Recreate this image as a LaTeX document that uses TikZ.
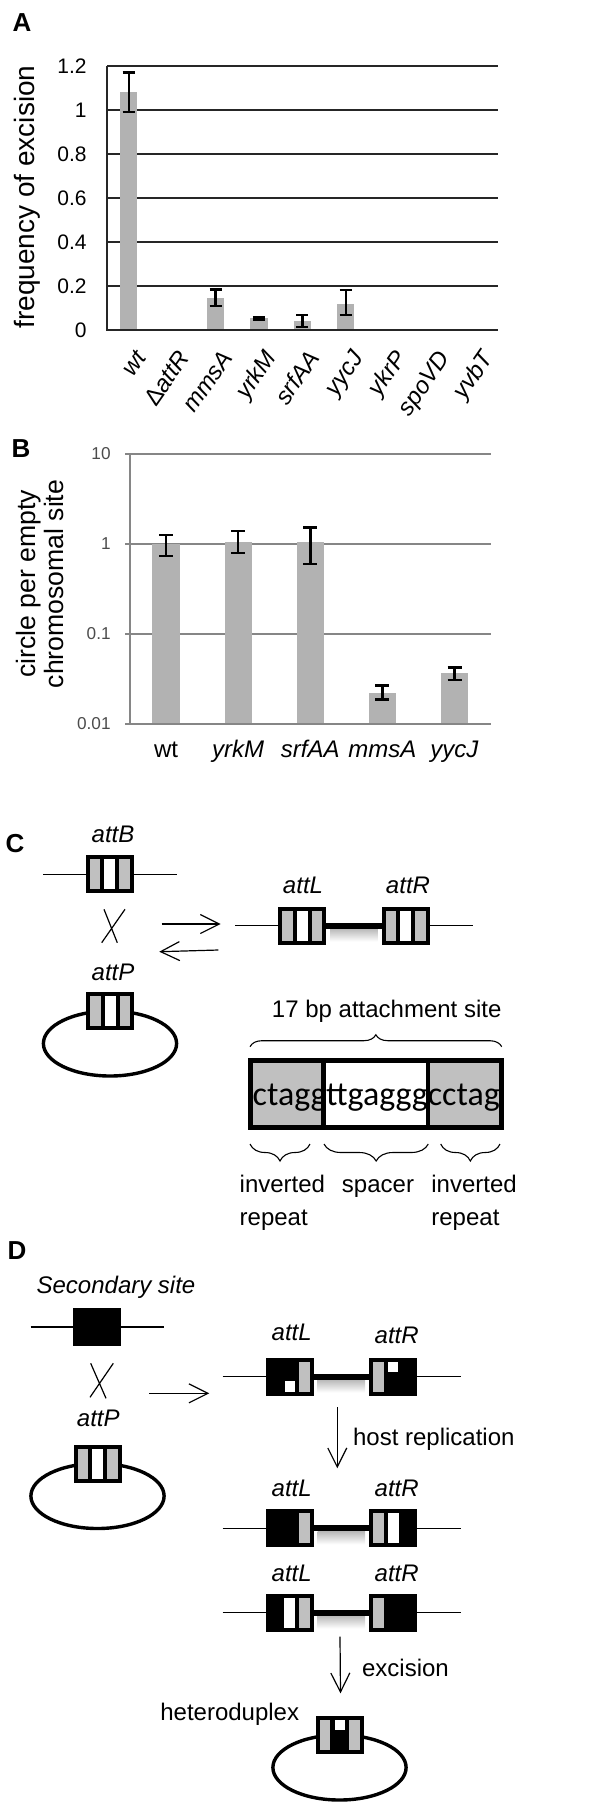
\documentclass[tikz,border=0pt]{standalone}
\usepackage{fontspec}
\setmainfont{Liberation Sans}
\newfontfamily\seqfont{Carlito}
\usetikzlibrary{arrows.meta,shapes.geometric,decorations.pathreplacing}

\definecolor{barfill}{RGB}{178,178,178}
\definecolor{stripe}{RGB}{192,192,192}
\definecolor{gridgray}{RGB}{134,134,134}

% fillings of a site box, offsets in px from its centre
\newcommand\stripeL[1]{\fill[stripe] ([shift={(-20,-15)}]#1.center) rectangle ([shift={(-9.5,15)}]#1.center);}
\newcommand\stripeR[1]{\fill[stripe] ([shift={(9.5,-15)}]#1.center) rectangle ([shift={(20,15)}]#1.center);}
\newcommand\stripeM[1]{\fill[white] ([shift={(-5.5,-15)}]#1.center) rectangle ([shift={(5.5,15)}]#1.center);}
\newcommand\dotTop[1]{\fill[white] ([shift={(-5,-15)}]#1.center) rectangle ([shift={(5,-5)}]#1.center);}
\newcommand\dotLow[1]{\fill[white] ([shift={(-5,4.5)}]#1.center) rectangle ([shift={(5.5,15)}]#1.center);}
\newcommand\dnashadow[2]{\shade[top color=black!28, bottom color=white] ([shift={(4,3)}]#1.east) rectangle ([shift={(-4,16)}]#2.west);}

\begin{document}
\begin{tikzpicture}[x=0.5pt, y=-0.5pt,
  panel/.style={font=\fontsize{13}{15}\selectfont\bfseries, inner sep=0pt},
  lbl/.style={font=\fontsize{12}{16.5}\selectfont, inner sep=0pt},
  site/.style={font=\fontsize{12}{14}\selectfont\itshape, inner sep=0pt},
  sitebox/.style={draw, fill=black, line width=2pt, minimum width=22pt, minimum height=17pt, inner sep=0pt},
  ring/.style={ellipse, draw, line width=1.7pt, minimum width=66.6pt, minimum height=32.5pt, inner sep=0pt, outer sep=0pt},
  dna/.style={line width=0.65pt},
  insert/.style={line width=3pt},
  reaction/.style={line width=0.6pt, -{Straight Barb[length=9.5pt, width=9.5pt]}},
  cross/.style={line width=0.6pt},
  gridA/.style={line width=0.65pt, black!85},
  gridB/.style={line width=0.6pt, gridgray},
  errbar/.style={line width=1.2pt},
  bracket/.style={decorate, line width=0.55pt}]
\useasboundingbox (0,0) rectangle (597,1810);

% A
\coordinate (oA) at (107,330);
\node (lblA) [panel] at (22,22.5) {A};
\node (yA) [rotate=90, inner sep=0pt, font=\fontsize{14}{16}\selectfont] at (27,197) {frequency of excision};
\foreach \v [count=\i] in {0,0.2,0.4,0.6,0.8,1,1.2}
  \node (tA\i) [anchor=east, inner sep=0pt, font=\fontsize{10.5}{12}\selectfont] at ([shift={(-20,-220*\v)}]oA) {\v};
\foreach \v in {0.2,0.4,0.6,0.8,1,1.2}
  \draw[gridA] ([shift={(0,-220*\v)}]oA) -- ([shift={(391,-220*\v)}]oA);
\foreach \c/\v/\lo/\hi in {1/1.08/0.99/1.17, 3/0.145/0.11/0.185, 4/0.053/0.048/0.058,
                          5/0.04/0.015/0.068, 6/0.12/0.068/0.182} {
  \pgfmathsetmacro\cx{128.7+43.4*(\c-1)}
  \fill[barfill] ({\cx-8.7},330) rectangle ({\cx+8.7},{330-220*\v});
  \draw[errbar] (\cx,{330-220*\lo}) -- (\cx,{330-220*\hi})
    ({\cx-6},{330-220*\lo}) -- ({\cx+6},{330-220*\lo})
    ({\cx-6},{330-220*\hi}) -- ({\cx+6},{330-220*\hi});
}
\draw[gridA] ([shift={(0,-264)}]oA) -- (oA) -- ([shift={(391,0)}]oA);
\foreach \g [count=\i] in {wt,\textup{Δ}attR,mmsA,yrkM,srfAA,yycJ,ykrP,spoVD,yvbT}
  \node (xA\i) [rotate=55, anchor=east, inner sep=0pt, text height=9pt, text depth=2.5pt,
    font=\fontsize{12}{14}\selectfont\itshape] at ({142+43.4*(\i-1)},354) {\g};

% B
\node (lblB) [panel] at (21,449) {B};
\node (yB) [rotate=90, align=center, inner sep=0pt, font=\fontsize{13.3}{13.6}\selectfont] at (40,584) {circle per empty\\chromosomal site};
\foreach \t [count=\i] in {0.01,0.1,1,10}
  \node (tB\i) [anchor=east, inner sep=0pt, text=black!70, font=\fontsize{8.6}{10}\selectfont] at (111,{724-90*(\i-1)}) {\t};
\foreach \e in {1,2,3}
  \draw[gridB] (125,{724-90*\e}) -- (490.7,{724-90*\e});
\foreach \c/\v/\lo/\hi in {1/1/0.735/1.26, 2/1.06/0.79/1.39, 3/1.06/0.6/1.52,
                          4/0.0223/0.0185/0.0267, 5/0.036/0.0308/0.0422} {
  \pgfmathsetmacro\cx{166.1+72.1*(\c-1)}
  \pgfmathsetmacro\yv{724-90*(ln(\v)/ln(10)+2)}
  \pgfmathsetmacro\ylo{724-90*(ln(\lo)/ln(10)+2)}
  \pgfmathsetmacro\yhi{724-90*(ln(\hi)/ln(10)+2)}
  \fill[barfill] ({\cx-13.7},724) rectangle ({\cx+13.7},\yv);
  \draw[errbar] (\cx,\ylo) -- (\cx,\yhi) ({\cx-7},\ylo) -- ({\cx+7},\ylo) ({\cx-7},\yhi) -- ({\cx+7},\yhi);
}
\draw[gridB] (130,454) -- (130,724) (125,724) -- (490.7,724);
\foreach \g [count=\i] in {wt,\textit{yrkM},\textit{srfAA},\textit{mmsA},\textit{yycJ}}
  \node (xB\i) [anchor=base, inner sep=0pt, font=\fontsize{12}{14}\selectfont] at ({166.1+72.1*(\i-1)},757) {\g};

% C
\node (lblC) [panel] at (15,844) {C};
\node (ringC) [ring] at (110,1043.5) {};
\path node (attB) at (109.7,874.3) [sitebox] {}
      node (attP) at (ringC.north) [sitebox] {}
      node (attL) at (302.2,925.5) [sitebox] {}
      node (attR) at (405.5,925.5) [sitebox] {};
\foreach \b in {attB,attP,attL,attR} {\stripeL{\b}\stripeM{\b}\stripeR{\b}}
\path node (attBt) at (113,842.7) [site, anchor=base] {attB}
      node (attPt) at (113,980)   [site, anchor=base] {attP}
      node (attLt) at (303,893.3) [site, anchor=base] {attL}
      node (attRt) at (408,893.3) [site, anchor=base] {attR};
\path coordinate (bW) at (43,874.3)  coordinate (bE) at (176.7,874.3)
      coordinate (lW) at (235,925.5) coordinate (lE) at (472.7,925.5)
      coordinate (fwS) at (161.7,924) coordinate (fwE) at (220.7,924)
      coordinate (bkS) at (218.3,950) coordinate (bkE) at (159.3,951.7);
\draw[dna] (bW) -- (attB) (attB) -- (bE)
           (lW) -- (attL) (attR) -- (lE);
\dnashadow{attL}{attR}
\draw[insert] (attL) -- (attR);
\draw[cross] (104,909.3) -- (117.3,942.7) (125,909.3) -- (101.7,942.7);
\draw[reaction] (fwS) -- (fwE);
\draw[reaction] (bkS) -- (bkE);

\node (siteT) [lbl, anchor=base] at (386.7,1017) {17 bp attachment site};
\draw[bracket, decoration={brace, amplitude=6pt}] (250,1046.7) -- (501.7,1046.7);
\fill[stripe] (248.3,1057.7) rectangle (323.3,1130);
\fill[stripe] (427.7,1057.7) rectangle (504,1130);
\draw[line width=2.5pt] (250.8,1060.2) rectangle (501.5,1127.5);
\draw[line width=2.2pt] (323.3,1060.2) -- (323.3,1127.5) (427.7,1060.2) -- (427.7,1127.5);
\node (seq) [anchor=base, inner sep=0pt, font=\seqfont\fontsize{17}{20}\selectfont] at (376.2,1105) {ctaggttgagggcctag};
\foreach \a/\b in {250/310, 324/428.3, 440.7/500}
  \draw[bracket, decoration={brace, amplitude=8.5pt}] (\b,1144) -- (\a,1144);
\path node (irL) at (239.3,1203)   [lbl, anchor=west, align=left] {inverted\\repeat}
      node (spc) at (378,1192.5)   [lbl, anchor=base] {spacer}
      node (irR) at (431,1203)     [lbl, anchor=west, align=left] {inverted\\repeat};

% D
\node (lblD) [panel] at (17,1251) {D};
\node (ringD) [ring] at (97.5,1496) {};
\node (ringH) [ring] at (339.5,1767.5) {};
\path node (sec)   at (97.2,1327)     [sitebox] {}
      node (attPD) at (ringD.north)   [sitebox] {}
      node (L1)    at (289.5,1376.5)  [sitebox] {}
      node (R1)    at (393.2,1376.5)  [sitebox] {}
      node (L2)    at (289.5,1528.3)  [sitebox] {}
      node (R2)    at (393.2,1528.3)  [sitebox] {}
      node (L3)    at (289.5,1612.5)  [sitebox] {}
      node (R3)    at (393.2,1612.5)  [sitebox] {}
      node (het)   at (ringH.north)   [sitebox] {};
\stripeL{attPD}\stripeM{attPD}\stripeR{attPD}
\stripeR{L1}\dotLow{L1} \stripeL{R1}\dotTop{R1}
\stripeR{L2} \stripeL{R2}\stripeM{R2}
\stripeM{L3}\stripeR{L3} \stripeL{R3}
\stripeL{het}\stripeR{het}\dotTop{het}
\path node (secT)   at (116,1293)      [site, anchor=base] {Secondary site}
      node (attPDt) at (98.3,1426.7)   [site, anchor=base] {attP}
      node (L1t)    at (291.7,1340)    [site, anchor=base] {attL}
      node (R1t)    at (396.7,1343)    [site, anchor=base] {attR}
      node (L2t)    at (291.7,1496.7)  [site, anchor=base] {attL}
      node (R2t)    at (396.7,1496.7)  [site, anchor=base] {attR}
      node (L3t)    at (291.7,1581.7)  [site, anchor=base] {attL}
      node (R3t)    at (396.7,1581.7)  [site, anchor=base] {attR}
      node (repT)   at (352.7,1445)    [lbl, anchor=base west] {host replication}
      node (excT)   at (361.7,1676)    [lbl, anchor=base west] {excision}
      node (hetT)   at (229.7,1720)    [lbl, anchor=base] {heteroduplex};
\path coordinate (sW) at (30.7,1327)    coordinate (sE) at (164.3,1327)
      coordinate (d1W) at (222.7,1376.5) coordinate (d1E) at (460.7,1376.5)
      coordinate (d2W) at (222.7,1528.3) coordinate (d2E) at (460.7,1528.3)
      coordinate (d3W) at (222.7,1612.5) coordinate (d3E) at (460.7,1612.5)
      coordinate (inS) at (149,1393.3)   coordinate (inE) at (209.3,1393.3)
      coordinate (rpS) at (337.3,1407.3) coordinate (rpE) at (337.3,1468.3)
      coordinate (exS) at (340,1636.7)   coordinate (exE) at (340.5,1693.3);
\draw[dna] (sW) -- (sec) (sec) -- (sE)
           (d1W) -- (L1) (R1) -- (d1E)
           (d2W) -- (L2) (R2) -- (d2E)
           (d3W) -- (L3) (R3) -- (d3E);
\dnashadow{L1}{R1}
\dnashadow{L2}{R2}
\dnashadow{L3}{R3}
\draw[insert] (L1) -- (R1) (L2) -- (R2) (L3) -- (R3);
\draw[cross] (90.7,1363.3) -- (106,1398.3) (113.3,1363.3) -- (90,1397.3);
\draw[reaction] (inS) -- (inE);
\draw[reaction] (rpS) -- (rpE);
\draw[reaction] (exS) -- (exE);
\end{tikzpicture}
\end{document}
